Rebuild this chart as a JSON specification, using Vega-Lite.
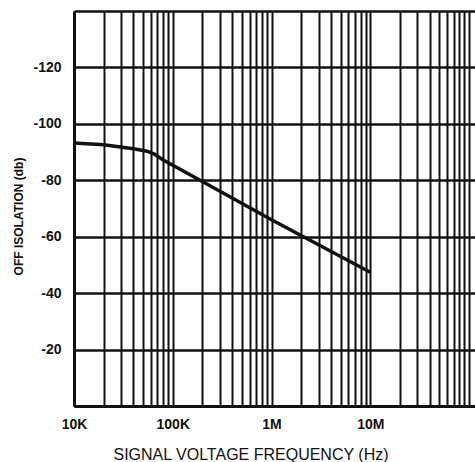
{
  "$schema": "https://vega.github.io/schema/vega-lite/v6.json",
  "autosize": {"type": "none"},
  "padding": {"left": 74, "top": 11, "right": 0, "bottom": 56},
  "width": 401,
  "height": 395,
  "background": "white",
  "config": {"view": {"stroke": null}},
  "data": {"values": [
    {"freq": 10000, "iso": -93.2},
    {"freq": 20000, "iso": -92.6},
    {"freq": 40000, "iso": -91.2},
    {"freq": 55000, "iso": -90.3},
    {"freq": 65000, "iso": -89.3},
    {"freq": 80000, "iso": -87.2},
    {"freq": 100000, "iso": -85.3},
    {"freq": 120000, "iso": -83.8},
    {"freq": 1000000, "iso": -66.0},
    {"freq": 10000000, "iso": -47.4}
  ]},
  "mark": {"type": "line", "color": "#111", "strokeWidth": 3.5, "clip": true},
  "encoding": {
    "x": {
      "field": "freq", "type": "quantitative",
      "scale": {"type": "log", "domain": [10000, 115000000], "nice": false},
      "axis": {
        "values": [10000,20000,30000,40000,50000,60000,70000,80000,90000,100000,200000,300000,400000,500000,600000,700000,800000,900000,1000000,2000000,3000000,4000000,5000000,6000000,7000000,8000000,9000000,10000000,20000000,30000000,40000000,50000000,60000000,70000000,80000000,90000000,100000000],
        "labelExpr": "datum.value==10000?'10K':datum.value==100000?'100K':datum.value==1000000?'1M':datum.value==10000000?'10M':''",
        "labelFlush": false,
        "labelOverlap": false,
        "labelFont": "Liberation Sans",
        "labelFontWeight": "bold",
        "labelFontSize": 14,
        "labelColor": "#111",
        "labelPadding": 11,
        "ticks": false,
        "domain": true,
        "domainColor": "#111",
        "domainWidth": 3,
        "grid": true,
        "gridColor": "#111",
        "gridWidth": 2,
        "gridOpacity": 1,
        "title": "SIGNAL VOLTAGE FREQUENCY (Hz)",
        "titleFont": "Liberation Sans",
        "titleFontWeight": "normal",
        "titleFontSize": 16,
        "titleColor": "#111",
        "titleAnchor": "start",
        "titleAlign": "left",
        "titleX": 39,
        "titleY": 48,
        "titleBaseline": "middle"
      }
    },
    "y": {
      "field": "iso", "type": "quantitative",
      "scale": {"domain": [-140, 0], "reverse": true, "nice": false, "zero": false},
      "axis": {
        "values": [-140, -120, -100, -80, -60, -40, -20, 0],
        "labelExpr": "datum.value==0||datum.value==-140?'':'-'+abs(datum.value)",
        "labelOverlap": false,
        "labelFont": "Liberation Sans",
        "labelFontWeight": "bold",
        "labelFontSize": 14,
        "labelColor": "#111",
        "labelPadding": 13,
        "ticks": false,
        "domain": true,
        "domainColor": "#111",
        "domainWidth": 3,
        "grid": true,
        "gridColor": "#111",
        "gridWidth": 2.5,
        "gridOpacity": 1,
        "title": "OFF ISOLATION (db)",
        "titleFont": "Liberation Sans",
        "titleFontWeight": "bold",
        "titleFontSize": 12,
        "titleColor": "#111",
        "titleAnchor": "middle",
        "titleAngle": -90,
        "titleX": -56,
        "titleY": 205,
        "titleAlign": "center",
        "titleBaseline": "middle"
      }
    }
  }
}
